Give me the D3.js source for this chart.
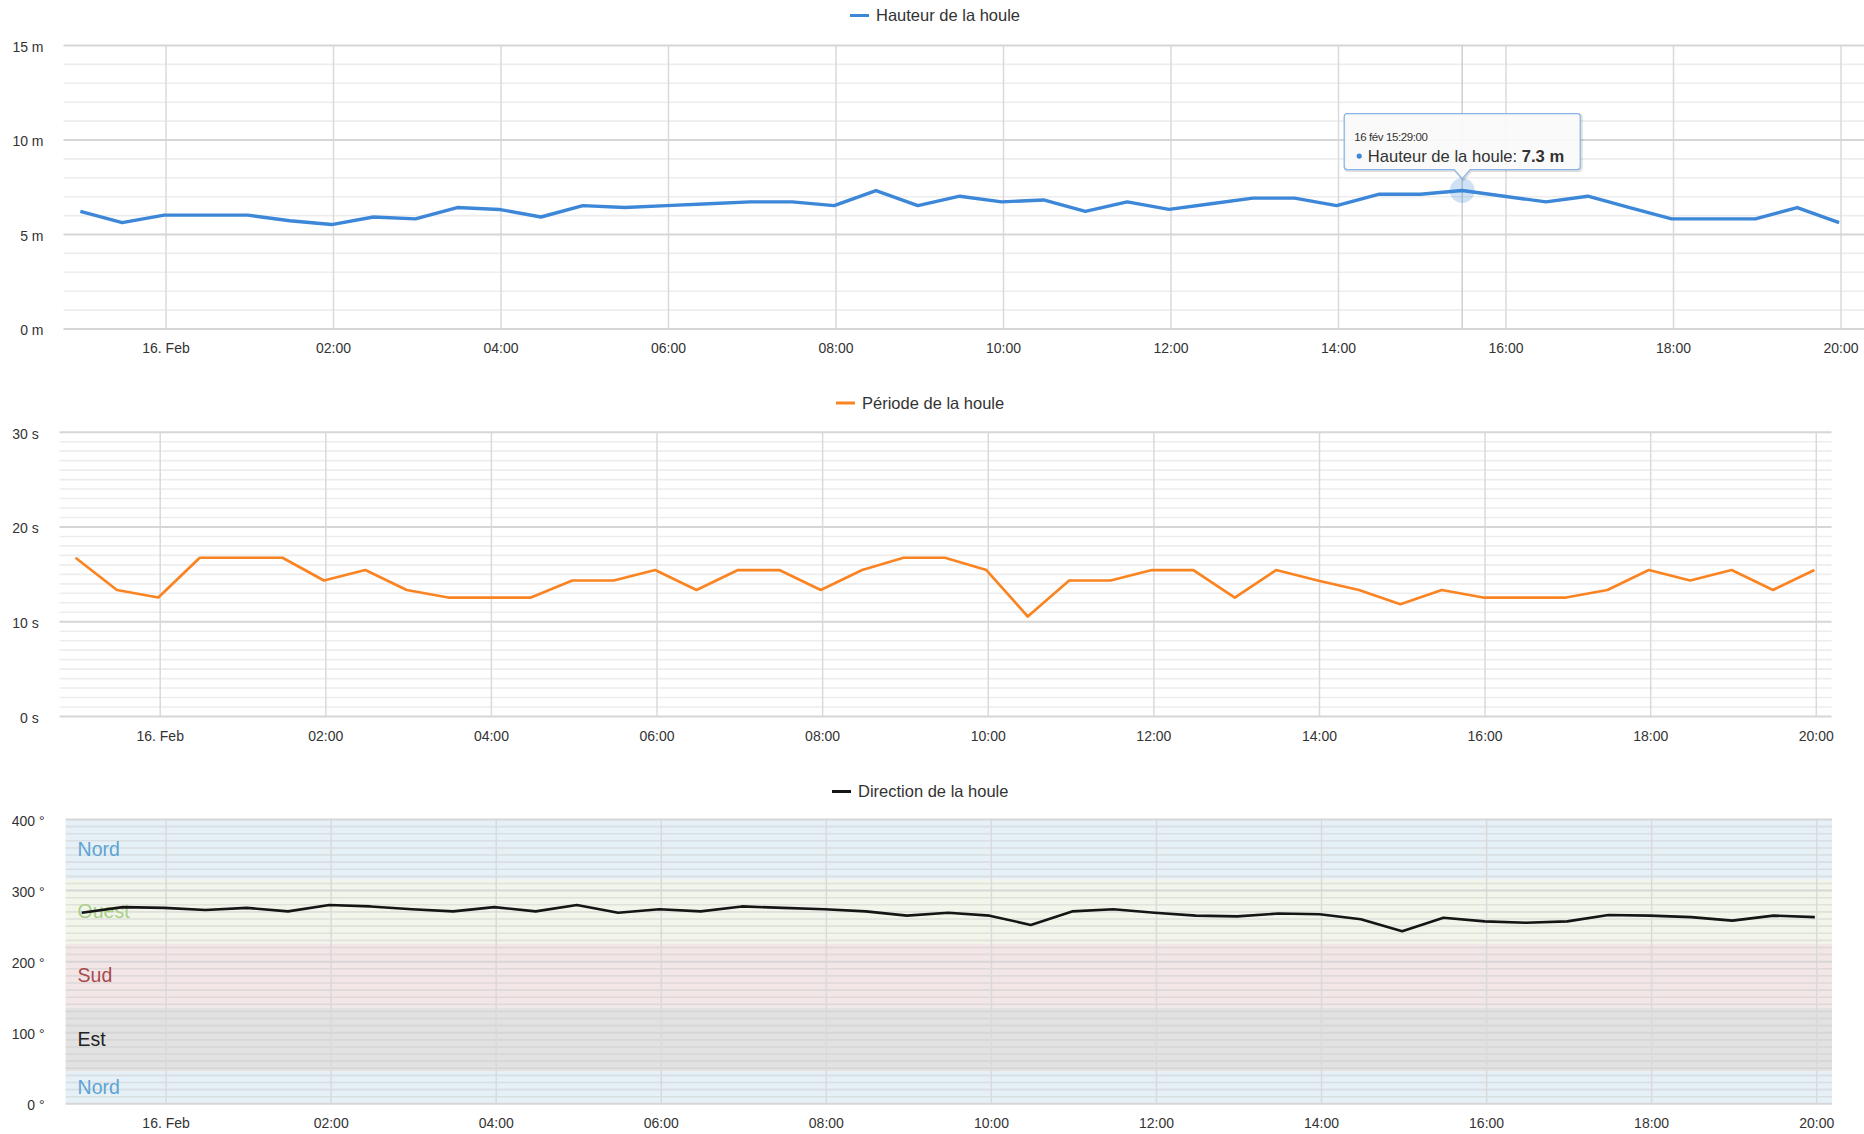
<!DOCTYPE html>
<html>
<head>
<meta charset="utf-8">
<style>
  body { margin: 0; background: #fff; }
  svg { display: block; }
  text { font-family: "Liberation Sans", Arial, sans-serif; }
</style>
</head>
<body>
<svg width="1864" height="1134"></svg>

<script src="https://d3js.org/d3.v7.min.js"></script>
<script>
// ---- data ----
let times = [
  "2013-02-15T22:59", "2013-02-15T23:29", "2013-02-15T23:59",
  "2013-02-16T00:29", "2013-02-16T00:59", "2013-02-16T01:29", "2013-02-16T01:59",
  "2013-02-16T02:29", "2013-02-16T02:59", "2013-02-16T03:29", "2013-02-16T03:59",
  "2013-02-16T04:29", "2013-02-16T04:59", "2013-02-16T05:29", "2013-02-16T05:59",
  "2013-02-16T06:29", "2013-02-16T06:59", "2013-02-16T07:29", "2013-02-16T07:59",
  "2013-02-16T08:29", "2013-02-16T08:59", "2013-02-16T09:29", "2013-02-16T09:59",
  "2013-02-16T10:29", "2013-02-16T10:59", "2013-02-16T11:29", "2013-02-16T11:59",
  "2013-02-16T12:29", "2013-02-16T12:59", "2013-02-16T13:29", "2013-02-16T13:59",
  "2013-02-16T14:29", "2013-02-16T14:59", "2013-02-16T15:29", "2013-02-16T15:59",
  "2013-02-16T16:29", "2013-02-16T16:59", "2013-02-16T17:29", "2013-02-16T17:59",
  "2013-02-16T18:29", "2013-02-16T18:59", "2013-02-16T19:29", "2013-02-16T19:59"
];

let hauteur = [
  6.2, 5.6, 6.0, 6.0, 6.0, 5.7, 5.5, 5.9, 5.8, 6.4, 6.3,
  5.9, 6.5, 6.4, 6.5, 6.6, 6.7, 6.7, 6.5, 7.3, 6.5, 7.0,
  6.7, 6.8, 6.2, 6.7, 6.3, 6.6, 6.9, 6.9, 6.5, 7.1, 7.1,
  7.3, 7.0, 6.7, 7.0, 6.4, 5.8, 5.8, 5.8, 6.4, 5.6
];

let periode = [
  16.7, 13.3, 12.5, 16.7, 16.7, 16.7, 14.3, 15.4, 13.3, 12.5, 12.5,
  12.5, 14.3, 14.3, 15.4, 13.3, 15.4, 15.4, 13.3, 15.4, 16.7, 16.7,
  15.4, 10.5, 14.3, 14.3, 15.4, 15.4, 12.5, 15.4, 14.3, 13.3, 11.8,
  13.3, 12.5, 12.5, 12.5, 13.3, 15.4, 14.3, 15.4, 13.3, 15.4
];

let direction = [
  268, 276, 275, 272, 275, 270, 279, 277, 273, 270, 276,
  270, 279, 268, 273, 270, 277, 275, 273, 270, 264, 268,
  264, 251, 270, 273, 268, 264, 263, 267, 266, 259, 242,
  261, 256, 254, 256, 265, 264, 262, 257, 264, 262
];

let xTicks = [
  "2013-02-16T00:00", "2013-02-16T02:00", "2013-02-16T04:00", "2013-02-16T06:00",
  "2013-02-16T08:00", "2013-02-16T10:00", "2013-02-16T12:00", "2013-02-16T14:00",
  "2013-02-16T16:00", "2013-02-16T18:00", "2013-02-16T20:00"
];
let xTickLabels = ["16. Feb", "02:00", "04:00", "06:00", "08:00", "10:00",
                   "12:00", "14:00", "16:00", "18:00", "20:00"];

let hauteurTicks = [0, 5, 10, 15];
let hauteurTickLabels = ["0 m", "5 m", "10 m", "15 m"];
let periodeTicks = [0, 10, 20, 30];
let periodeTickLabels = ["0 s", "10 s", "20 s", "30 s"];
let directionTicks = [0, 100, 200, 300, 400];
let directionTickLabels = ["0 °", "100 °", "200 °", "300 °", "400 °"];

let bandFrom = [0, 45, 135, 225, 315];
let bandTo = [45, 135, 225, 315, 400];
let bandNames = ["Nord", "Est", "Sud", "Ouest", "Nord"];

let tooltipIndex = 33;

// ---- layout ----
let parseT = d3.timeParse("%Y-%m-%dT%H:%M");
let T = times.map(parseT);
let tickT = xTicks.map(parseT);

let bandFill = { "Nord": "#e6f1f7", "Est": "#e2e2e2", "Sud": "#f3e6e7", "Ouest": "#f2f6ea" };
let bandText = { "Nord": "#5ea3d3", "Est": "#222222", "Sud": "#a84a4e", "Ouest": "#a9cf86" };

let panels = [
  { name: "Hauteur de la houle", values: hauteur, ticks: hauteurTicks, tickLabels: hauteurTickLabels,
    yMax: 15, minor: 1, color: "#3c87d8", lineWidth: 3.4,
    top: 45, bottom: 328.5, left: 63.5, right: 1866, x00: 165.5, x20: 1840.5,
    labelRight: 43.5, legendX: 850, legendY: 15.5 },
  { name: "Période de la houle", values: periode, ticks: periodeTicks, tickLabels: periodeTickLabels,
    yMax: 30, minor: 1, color: "#fb8422", lineWidth: 2.7,
    top: 431.7, bottom: 716, left: 59.5, right: 1831.5, x00: 159.7, x20: 1815.8,
    labelRight: 38.8, legendX: 836, legendY: 403 },
  { name: "Direction de la houle", values: direction, ticks: directionTicks, tickLabels: directionTickLabels,
    yMax: 400, minor: 10, color: "#151515", lineWidth: 2.6, bands: true,
    top: 819, bottom: 1103.3, left: 65.6, right: 1832, x00: 165.6, x20: 1816.2,
    labelRight: 44.6, legendX: 832, legendY: 791.5 }
];

let svg = d3.select("svg");

panels.forEach(function(p, pi) {
  let g = svg.append("g");

  let xScale = d3.scaleTime()
      .domain([tickT[0], tickT[tickT.length - 1]])
      .range([p.x00, p.x20]);
  let yScale = d3.scaleLinear()
      .domain([0, p.yMax])
      .range([p.bottom, p.top]);

  // plot bands (direction chart)
  if (p.bands) {
    g.selectAll(".band")
      .data(bandNames)
      .join("rect")
      .attr("x", p.left)
      .attr("width", p.right - p.left)
      .attr("y", (d, i) => yScale(bandTo[i]))
      .attr("height", (d, i) => yScale(bandFrom[i]) - yScale(bandTo[i]))
      .style("fill", d => bandFill[d]);
  }

  // minor horizontal grid
  let minorVals = d3.range(0, p.yMax + 0.001, p.minor).filter(v => p.ticks.indexOf(v) < 0);
  g.append("g")
    .attr("transform", "translate(" + p.left + ",0)")
    .call(d3.axisLeft(yScale).tickValues(minorVals).tickSize(-(p.right - p.left)).tickFormat(""))
    .call(a => a.select(".domain").remove())
    .call(a => a.selectAll("line").style("stroke", p.bands ? "rgba(200,200,200,0.45)" : "#ededed").style("stroke-width", 1.6));

  // vertical grid
  g.append("g")
    .attr("transform", "translate(0," + p.bottom + ")")
    .call(d3.axisBottom(xScale).tickValues(tickT).tickSize(-(p.bottom - p.top)).tickFormat(""))
    .call(a => a.select(".domain").remove())
    .call(a => a.selectAll("line").style("stroke", "#dadada").style("stroke-width", 1.5));

  // major horizontal grid
  g.append("g")
    .attr("transform", "translate(" + p.left + ",0)")
    .call(d3.axisLeft(yScale).tickValues(p.ticks).tickSize(-(p.right - p.left)).tickFormat(""))
    .call(a => a.select(".domain").remove())
    .call(a => a.selectAll("line").style("stroke", "#d6d6d6").style("stroke-width", 2));

  // band labels
  if (p.bands) {
    g.selectAll(".bandLabel")
      .data(bandNames)
      .join("text")
      .attr("x", p.left + 12)
      .attr("y", (d, i) => yScale((bandFrom[i] + bandTo[i]) / 2))
      .attr("dy", "0.35em")
      .style("font-size", "19.5px")
      .style("fill", d => bandText[d])
      .text(d => d);
  }

  // y axis labels
  g.append("g")
    .attr("transform", "translate(" + p.labelRight + ",0)")
    .call(d3.axisLeft(yScale).tickValues(p.ticks).tickSize(0).tickPadding(0)
          .tickFormat((d, i) => p.tickLabels[i]))
    .call(a => a.select(".domain").remove())
    .call(a => a.selectAll("text")
      .attr("dy", "0.45em")
      .style("font-size", "14px")
      .style("font-family", "'Liberation Sans', Arial, sans-serif")
      .style("fill", "#333"));

  // x axis labels
  g.append("g")
    .attr("transform", "translate(0," + p.bottom + ")")
    .call(d3.axisBottom(xScale).tickValues(tickT).tickSize(0).tickPadding(15)
          .tickFormat((d, i) => xTickLabels[i]))
    .call(a => a.select(".domain").remove())
    .call(a => a.selectAll("text")
      .style("font-size", "14px")
      .style("font-family", "'Liberation Sans', Arial, sans-serif")
      .style("fill", "#333"));

  // crosshair for tooltip on first chart
  if (pi === 0) {
    g.append("line")
      .attr("x1", xScale(T[tooltipIndex])).attr("x2", xScale(T[tooltipIndex]))
      .attr("y1", p.top).attr("y2", p.bottom)
      .style("stroke", "#cfcfcf").style("stroke-width", 1.5);
  }

  // series line
  let lineGenerator = d3.line()
      .x((d, i) => xScale(T[i]))
      .y(d => yScale(d));

  g.append("path")
    .datum(p.values)
    .attr("d", lineGenerator)
    .style("fill", "none")
    .style("stroke", p.color)
    .style("stroke-width", p.lineWidth)
    .style("stroke-linejoin", "round");

  // legend
  let leg = g.append("g").attr("transform", "translate(" + p.legendX + "," + p.legendY + ")");
  leg.append("line")
    .attr("x1", 0).attr("x2", 19).attr("y1", 0).attr("y2", 0)
    .style("stroke", p.color).style("stroke-width", 3);
  leg.append("text")
    .attr("x", 26).attr("y", 0).attr("dy", "0.36em")
    .style("font-size", "16.5px").style("fill", "#333")
    .text(p.name);

  // tooltip
  if (pi === 0) {
    let px = xScale(T[tooltipIndex]), py = yScale(p.values[tooltipIndex]);
    g.append("circle")
      .attr("cx", px).attr("cy", py).attr("r", 12.5)
      .style("fill", p.color).style("opacity", 0.25);

    let w = 236, h = 56, bx = px - w / 2, by = py - 77, r = 3;
    let tip = g.append("g");
    let pathD = "M" + (bx + r) + "," + by +
      " L" + (bx + w - r) + "," + by +
      " Q" + (bx + w) + "," + by + " " + (bx + w) + "," + (by + r) +
      " L" + (bx + w) + "," + (by + h - r) +
      " Q" + (bx + w) + "," + (by + h) + " " + (bx + w - r) + "," + (by + h) +
      " L" + (px + 8) + "," + (by + h) +
      " L" + px + "," + (by + h + 9) +
      " L" + (px - 8) + "," + (by + h) +
      " L" + (bx + r) + "," + (by + h) +
      " Q" + bx + "," + (by + h) + " " + bx + "," + (by + h - r) +
      " L" + bx + "," + (by + r) +
      " Q" + bx + "," + by + " " + (bx + r) + "," + by + " Z";
    tip.append("path").attr("d", pathD)
      .attr("transform", "translate(1,1)")
      .style("fill", "none").style("stroke", "rgba(0,0,0,0.12)").style("stroke-width", 3);
    tip.append("path").attr("d", pathD)
      .style("fill", "rgba(250,250,250,0.92)")
      .style("stroke", "#8ab4e6").style("stroke-width", 1.2);

    let fmt = d3.timeFormat("%d fév %H:%M:%S");
    tip.append("text")
      .attr("x", bx + 10).attr("y", by + 27)
      .style("font-size", "11.5px").style("fill", "#333").style("letter-spacing", "-0.4px")
      .text(fmt(T[tooltipIndex]));
    tip.append("circle")
      .attr("cx", bx + 15).attr("cy", by + 42.5).attr("r", 2.6)
      .style("fill", p.color);
    let t2 = tip.append("text")
      .attr("x", bx + 23.5).attr("y", by + 48)
      .style("font-size", "16.6px").style("fill", "#333");
    t2.append("tspan").text(p.name + ": ");
    t2.append("tspan").style("font-weight", "bold").text(p.values[tooltipIndex] + " m");
  }
});
</script>
</body>
</html>
